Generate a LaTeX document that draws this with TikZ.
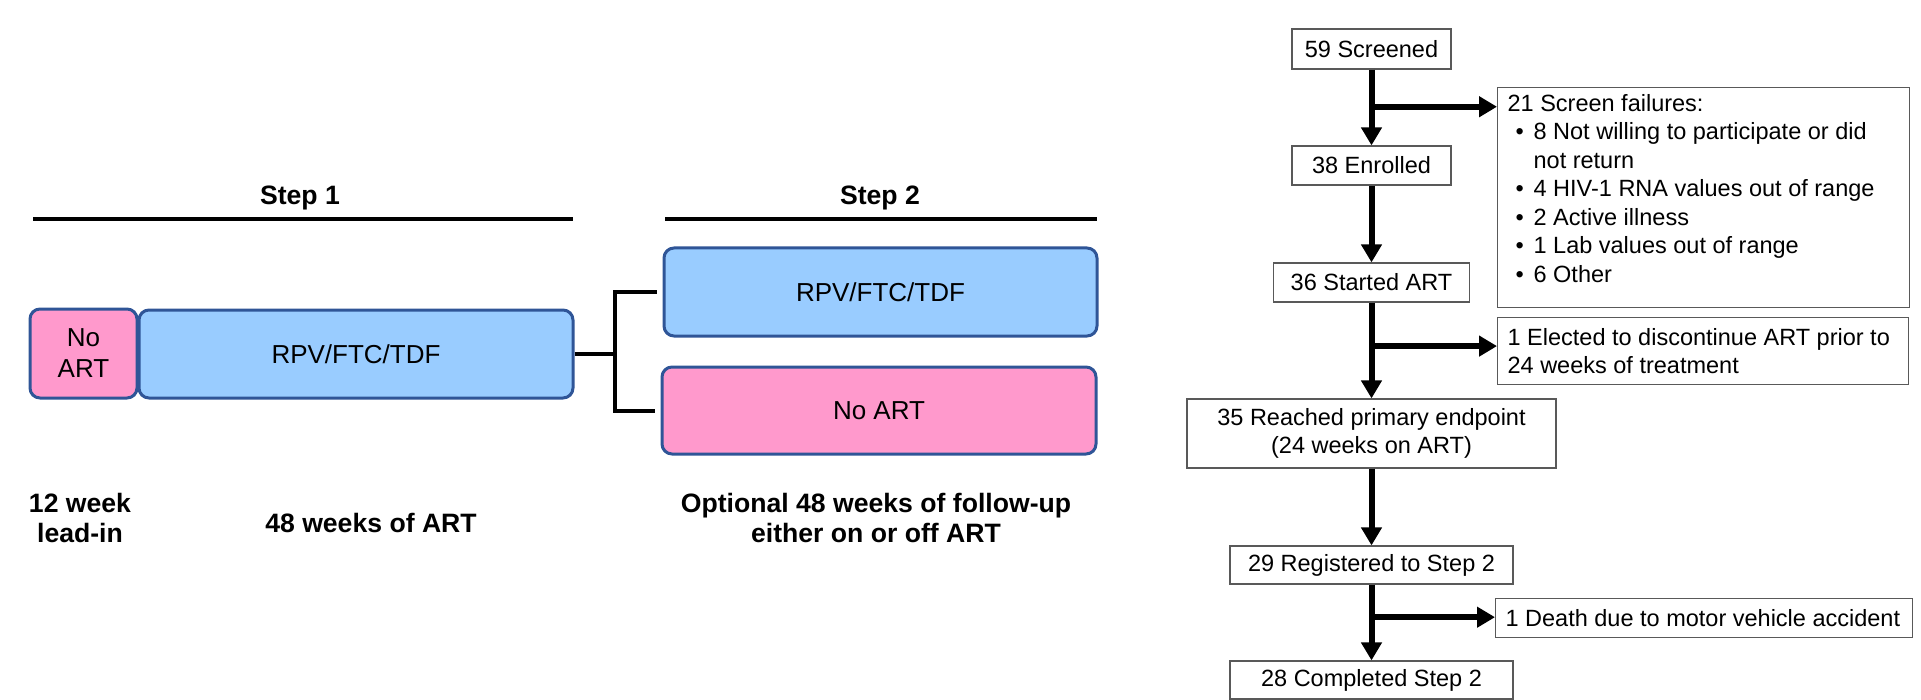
\documentclass[tikz,border=0pt]{standalone}
\usepackage{fontspec}
\setmainfont{Liberation Sans}
\usetikzlibrary{arrows.meta}
\definecolor{bfill}{HTML}{99CCFF}
\definecolor{pfill}{HTML}{FF99CC}
\definecolor{bline}{HTML}{2F5597}
\definecolor{gline}{HTML}{595959}
\newcommand{\fbul}{\makebox[13pt][l]{\hspace{4pt}\textbullet}}
\begin{document}
\begin{tikzpicture}[x=0.5pt,y=-0.5pt,
  arm/.style={rounded corners=5pt, draw=bline, line width=1.5pt, font=\fontsize{13}{15.5}\selectfont, align=center, inner sep=0pt},
  bluebox/.style={arm, fill=bfill},
  pinkbox/.style={arm, fill=pfill},
  steplbl/.style={font=\fontsize{13.3}{15}\selectfont\bfseries, align=center, inner sep=0pt},
  stepline/.style={line width=2pt},
  brk/.style={line width=2pt},
  fbox/.style={draw=gline, line width=0.6pt, font=\fontsize{11.75}{14.25}\selectfont, inner sep=0pt, align=center},
  flow/.style={line width=3pt, -{Triangle[length=9pt,width=10pt]}},
]
\useasboundingbox (0,0) rectangle (1921,700);

% ---------- left: study design ----------
\node[steplbl] (s1) at (300,198) {Step 1};
\coordinate (s1a) at (33,219);
\coordinate (s1b) at (573,219);
\draw[stepline] (s1a) -- (s1b);
\node[steplbl] (s2) at (880,198) {Step 2};
\coordinate (s2a) at (665,219);
\coordinate (s2b) at (1097,219);
\draw[stepline] (s2a) -- (s2b);

\node[pinkbox, minimum width=53.5pt, minimum height=44.5pt] (noart1) at (83.5,353.5) {No\\ART};
\node[bluebox, minimum width=217pt, minimum height=44pt] (rpv1) at (356,354) {RPV/FTC/TDF};
\node[bluebox, minimum width=216.5pt, minimum height=44pt] (rpv2) at (880.5,292) {RPV/FTC/TDF};
\node[pinkbox, minimum width=217pt, minimum height=43.5pt] (noart2) at (879,410.5) {No ART};

\coordinate (j) at (615,354);
\draw[brk] (rpv1.east) -- (j);
\draw[brk] ([xshift=-3pt]rpv2.west) -| (j |- noart2.west) -- ([xshift=-3pt]noart2.west);

\node[steplbl] (lead) at (80,518) {12 week\\lead-in};
\node[steplbl] (art48) at (371,523) {48 weeks of ART};
\node[steplbl] (opt) at (876,517.5) {Optional 48 weeks of follow-up\\either on or off ART};

% ---------- right: flowchart ----------
\node[fbox, minimum width=79.5pt, minimum height=20pt] (scr) at (1371.5,49) {59 Screened};
\node[fbox, minimum width=79.5pt, minimum height=19.5pt] (enr) at (1371.5,165.5) {38 Enrolled};
\node[fbox, minimum width=98pt, minimum height=19.5pt] (sta) at (1371.5,282.5) {36 Started ART};
\node[fbox, minimum width=184.5pt, minimum height=34.5pt] (rea) at (1371.5,433.5) {35 Reached primary endpoint\\(24 weeks on ART)};
\node[fbox, minimum width=141.5pt, minimum height=19pt] (reg) at (1371.5,565) {29 Registered to Step 2};
\node[fbox, minimum width=141.5pt, minimum height=19pt] (com) at (1371.5,680) {28 Completed Step 2};

\node[fbox, anchor=north west, inner xsep=5pt, inner ysep=3.25pt, align=left] (fail) at (1497,87)
  {\parbox[t][103.5pt][t]{196pt}{\raggedright
   21 Screen failures:\\
   \fbul 8 Not willing to participate or did\\
   \hspace*{13pt}not return\\
   \fbul 4 HIV-1 RNA values out of range\\
   \fbul 2 Active illness\\
   \fbul 1 Lab values out of range\\
   \fbul 6 Other}};
\node[fbox, anchor=north west, inner xsep=5pt, minimum height=33.5pt, align=left] (ele) at (1497,317)
  {\makebox[195.5pt][l]{1 Elected to discontinue ART prior to}\\24 weeks of treatment};
\node[fbox, anchor=north west, inner xsep=5pt, minimum height=19.5pt, align=left] (dea) at (1495,598)
  {\makebox[198.5pt][l]{1 Death due to motor vehicle accident}};

\path (scr.south) -- (enr.north) coordinate[pos=0.49] (b1);
\path (sta.south) -- (rea.north) coordinate[pos=0.454] (b2);
\path (reg.south) -- (com.north) coordinate[pos=0.43] (b3);

\draw[flow] (scr.south) -- (enr.north);
\draw[flow] (enr.south) -- (sta.north);
\draw[flow] (sta.south) -- (rea.north);
\draw[flow] (rea.south) -- (reg.north);
\draw[flow] (reg.south) -- (com.north);
\draw[flow] (b1) -- (b1 -| fail.west);
\draw[flow] (b2) -- (b2 -| ele.west);
\draw[flow] (b3) -- (b3 -| dea.west);
\end{tikzpicture}
\end{document}
